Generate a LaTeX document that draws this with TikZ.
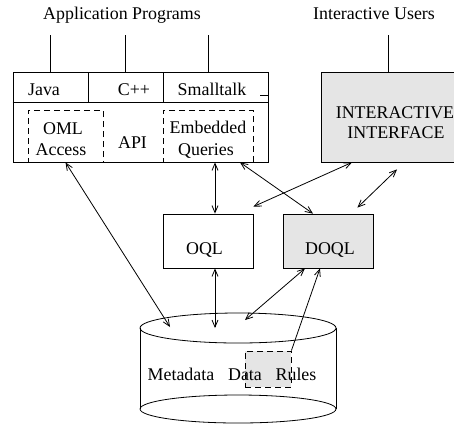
\documentclass[tikz,border=0pt]{standalone}
\usepackage{fontspec}
\setmainfont{Liberation Serif}
\usetikzlibrary{arrows.meta}

\definecolor{boxgray}{HTML}{E5E5E5}

\tikzset{
    box/.style={draw, rectangle, inner sep=0pt, minimum width=90pt, minimum height=54pt},
    dbox/.style={draw, rectangle, inner sep=0pt, dash pattern=on 6pt off 4pt},
    txt/.style={anchor=base, inner sep=0pt},
}

\begin{document}
\begin{tikzpicture}[x=1pt, y=-1pt, line width=0.8pt,
    font=\fontsize{17.9}{21}\selectfont,
    >={Straight Barb[length=7pt,width=6pt]}]
    \useasboundingbox (0,0) rectangle (454,424);

    % who uses it
    \node[txt] (apps) at (122,19.5) {Application Programs};
    \node[txt] (users) at (374,19.5) {Interactive Users};

    % language bindings + API block
    \node[box, minimum width=255pt, minimum height=90pt] (api) at (140.5,117) {};
    \draw (api.west |- 0,102) -- (api.east |- 0,102);
    \draw (88,72) -- (88,102);
    \draw (163,72) -- (163,102);
    \draw (260,95) -- (api.east |- 0,95);
    \draw (50,35) -- (50,72);
    \draw (125,35) -- (125,72);
    \draw (208,35) -- (208,72);
    \node[txt] (java) at (44,95) {Java};
    \node[txt] (cpp) at (134,95) {C++};
    \node[txt] (stalk) at (212,95) {Smalltalk};
    \node[dbox, minimum width=75pt, minimum height=52pt] (oml) at (65.5,136) {};
    \node[dbox, minimum width=90pt, minimum height=52pt] (emb) at (208,136) {};
    \node[txt] (omltxt) at (63,134.5) {OML};
    \node[txt] (acctxt) at (61,155) {Access};
    \node[txt] (apitxt) at (132.5,148) {API};
    \node[txt] (embtxt) at (208,133.5) {Embedded};
    \node[txt] (qrytxt) at (206,155) {Queries};

    % interactive interface
    \node[box, fill=boxgray, minimum width=148pt, minimum height=90pt] (iface) at (395,117) {};
    \draw ([xshift=-7pt]iface.north) -- ([xshift=-7pt]iface.north |- 0,35);
    \node[txt] (itxt1) at (395,118) {INTERACTIVE};
    \node[txt] (itxt2) at (396,138) {INTERFACE};

    % query processors
    \node[box] (oql) at (208,241) {};
    \node[box, fill=boxgray] (doql) at (328,241) {};
    \node[txt] (oqltxt) at (204.5,254) {OQL};
    \node[txt] (doqltxt) at (330,254) {DOQL};

    % the database
    \coordinate (dbtop) at (238,328);
    \coordinate (dbbot) at (238,409);
    \draw (dbtop) ellipse (98pt and 15pt);
    \draw (dbbot) ellipse (98pt and 14pt);
    \draw ([xshift=-98pt]dbtop) -- ([xshift=-98pt]dbbot);
    \draw ([xshift=98pt]dbtop) -- ([xshift=98pt]dbbot);
    \node[dbox, fill=boxgray, minimum width=46pt, minimum height=36pt] (rules) at (268,369) {};
    \node[txt] (meta) at (181,380) {Metadata};
    \node[txt] (data) at (245,380) {Data};
    \node[txt] (rultxt) at (296,380) {Rules};
    \coordinate (dbA) at (170,327);
    \coordinate (dbB) at (215,328);
    \coordinate (dbC) at (245,320);

    % links
    \draw[<->] (oml.south) -- (dbA);
    \draw[<->] ([xshift=7pt]emb.south) -- ([xshift=7pt]oql.north);
    \draw[<->] ([xshift=32pt]emb.south) -- ([xshift=-15pt]doql.north);
    \draw[<->] ([xshift=-43pt]iface.south) -- ([yshift=7pt]oql.north east);
    \draw[<->] ([xshift=2pt,yshift=-7pt]iface.south) -- ([xshift=-16pt,yshift=6pt]doql.north east);
    \draw[<->] ([xshift=7pt]oql.south) -- (dbB);
    \draw[<->] ([xshift=-23pt]doql.south) -- (dbC);
    \draw[->] (rules.north east) -- ([xshift=-8pt]doql.south);
\end{tikzpicture}
\end{document}
